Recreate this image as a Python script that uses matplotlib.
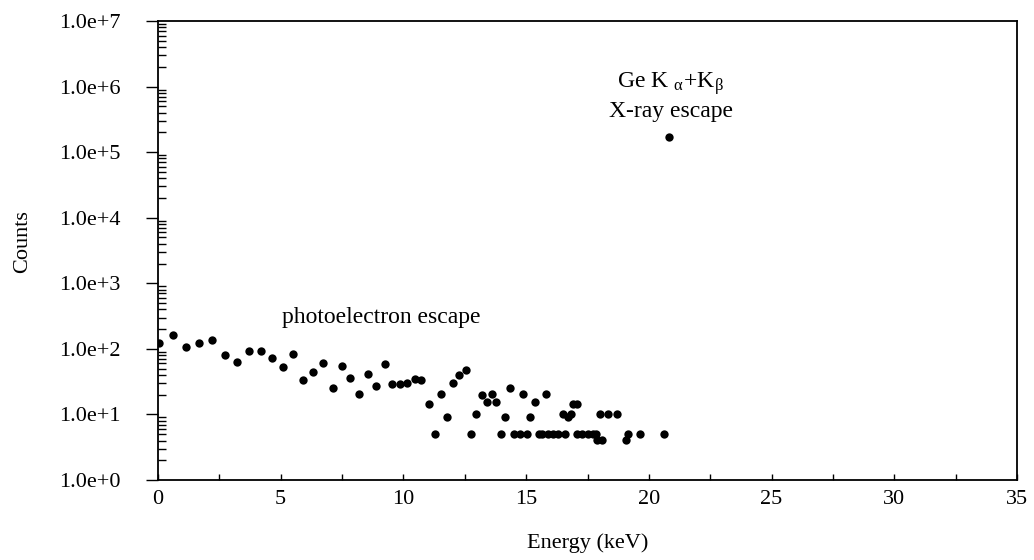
import matplotlib

matplotlib.use("Agg")
import matplotlib.pyplot as plt
import numpy as np
from matplotlib.ticker import FixedLocator, FuncFormatter, LogLocator, MultipleLocator, NullFormatter

plt.rcParams["font.family"] = ["Liberation Serif", "DejaVu Serif"]
plt.rcParams["mathtext.fontset"] = "stix"

# energy (keV) and counts
energy = [
    0.04, 0.62, 1.15, 1.67, 2.20, 2.74, 3.23, 3.72, 4.18, 4.65,
    5.08, 5.50, 5.91, 6.33, 6.74, 7.12, 7.48, 7.84, 8.19, 8.57,
    8.90, 9.24, 9.54, 9.85, 10.16, 10.46, 10.72, 11.03, 11.30, 11.54,
    11.78, 12.03, 12.27, 12.54, 12.75, 12.96, 13.19, 13.39, 13.60, 13.79,
    13.98, 14.15, 14.36, 14.51, 14.74, 14.87, 15.02, 15.17, 15.38, 15.51,
    15.65, 15.80, 15.90, 16.08, 16.31, 16.49, 16.58, 16.70, 16.83, 16.90,
    17.06, 17.09, 17.26, 17.54, 17.71, 17.85, 17.88, 18.01, 18.08, 18.35,
    18.69, 19.07, 19.14, 19.64, 20.62,
]
counts = [
    124, 161, 108, 124, 138, 81, 64, 92, 93, 73,
    53, 83, 33.5, 45, 61, 25.6, 54, 35.6, 20.3, 41,
    27, 58, 29, 29, 30, 35, 33, 14.4, 5.1, 20.4,
    9.2, 30, 40, 48, 5.1, 10.3, 19.5, 15.3, 20.4, 15.3,
    5.1, 9.2, 25.6, 5.1, 5.1, 20.4, 5.1, 9.2, 15.3, 5.1,
    5.1, 20.4, 5.1, 5.1, 5.1, 10.3, 5.1, 9.2, 10.3, 14.4,
    14.4, 5.1, 5.1, 5.1, 5.1, 5.1, 4.07, 10.3, 4.07, 10.3,
    10.3, 4.07, 5.1, 5.1, 5.1,
]
# Ge K X-ray escape peak
peak_energy = [20.82]
peak_counts = [1.7e5]

y_ticks = [1e0, 1e1, 1e2, 1e3, 1e4, 1e5, 1e6, 1e7]

fig = plt.figure(figsize=(10.34, 5.6), dpi=100, facecolor="white")
ax = fig.add_axes([158 / 1034, 80 / 560, 859 / 1034, 459 / 560])

ax.plot(energy, counts, "o", color="black", ms=6, mew=0)
ax.plot(peak_energy, peak_counts, "o", color="black", ms=6, mew=0)

ax.set_yscale("log")
ax.set_xlim(0, 35)
ax.set_ylim(1e0, 1e7)

ax.xaxis.set_major_locator(MultipleLocator(5))
ax.xaxis.set_minor_locator(MultipleLocator(2.5))
ax.yaxis.set_major_locator(FixedLocator(y_ticks))
ax.yaxis.set_minor_locator(LogLocator(base=10, subs=np.arange(2, 10)))
ax.yaxis.set_minor_formatter(NullFormatter())
ax.yaxis.set_major_formatter(FuncFormatter(lambda v, p: f"1.0e+{int(round(np.log10(v)))}"))

for s in ax.spines.values():
    s.set_linewidth(1.3)

ax.tick_params(axis="x", which="major", direction="in", length=4, width=1, labelsize=16, pad=7)
ax.tick_params(axis="x", which="minor", direction="in", length=4, width=1)
ax.tick_params(axis="y", which="major", direction="out", length=9, width=1, labelsize=16, pad=18)
ax.tick_params(axis="y", which="minor", direction="in", length=6, width=1)

ax.set_xlabel("Energy (keV)", fontsize=16, labelpad=18)
ax.set_ylabel("Counts", fontsize=16)
ax.yaxis.set_label_coords(-0.146, 0.52)

ax.text(9.1, 300, "photoelectron escape", fontsize=17, ha="center", va="center")
ax.text(20.9, 1.12e6, r"Ge K $_{\mathregular{α}}$+K$_{\mathregular{β}}$", fontsize=17, ha="center", va="center")
ax.text(20.9, 4.2e5, "X-ray escape", fontsize=17, ha="center", va="center")

fig.savefig("out.png", dpi=100, facecolor="white")
plt.close(fig)
